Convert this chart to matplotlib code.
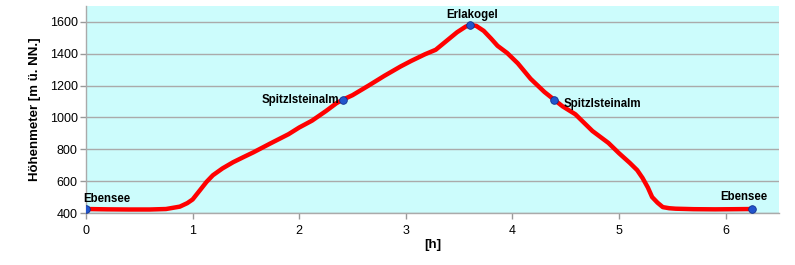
import matplotlib
matplotlib.use("Agg")
import matplotlib.pyplot as plt

plt.rcParams['font.family'] = ['Liberation Sans', 'DejaVu Sans']

# Elevation profile (time in hours, elevation in m)
hours = [0.0, 0.2, 0.4, 0.6, 0.75, 0.88, 0.95, 1.0, 1.07, 1.13, 1.19, 1.28, 1.38, 1.48,
         1.57, 1.73, 1.9, 2.0, 2.12, 2.25, 2.35, 2.41, 2.5, 2.65, 2.8, 2.95, 3.05, 3.18,
         3.28, 3.38, 3.48, 3.56, 3.6, 3.66, 3.73, 3.8, 3.86, 3.95, 4.05, 4.17, 4.3, 4.39,
         4.47, 4.59, 4.75, 4.9, 5.0, 5.1, 5.17, 5.22, 5.27, 5.31, 5.36, 5.41, 5.47, 5.53,
         5.7, 5.9, 6.1, 6.25]
elev = [425, 423, 422, 422, 425, 440, 462, 485, 544, 595, 637, 680, 719, 752,
        781, 837, 895, 937, 980, 1040, 1090, 1112, 1140, 1200, 1262, 1320, 1355, 1397,
        1425, 1480, 1535, 1570, 1581, 1575, 1544, 1495, 1450, 1405, 1340, 1243, 1160, 1112,
        1070, 1020, 915, 840, 775, 715, 669, 620, 560, 500, 465, 437, 430, 427,
        424, 423, 424, 425]

# Waypoints
wp_names = ["Ebensee", "Spitzlsteinalm", "Erlakogel", "Spitzlsteinalm", "Ebensee"]
wp_hours = [0.0, 2.41, 3.6, 4.39, 6.25]
wp_elev = [425, 1112, 1581, 1112, 425]

fig = plt.figure(figsize=(7.95, 2.65), dpi=100)
ax = fig.add_axes([86/795, 52/265, (779-86)/795, (213-6)/265])
ax.set_facecolor('#CCFCFC')

ax.plot(hours, elev, color='#FF0000', lw=3.2, solid_capstyle='round', solid_joinstyle='round', zorder=3)
ax.scatter(wp_hours, wp_elev, s=30, color='#2255CC', edgecolor='#103090', linewidth=0.6, zorder=4)

offsets = [(-2, 3, 'left', 'bottom'), (-3, 0, 'right', 'center'), (2, 3, 'center', 'bottom'),
           (7, -3, 'left', 'center'), (-6, 4, 'center', 'bottom')]
for name, hx, ey, (dx, dy, ha, va) in zip(wp_names, wp_hours, wp_elev, offsets):
    ax.annotate(name, (hx, ey), xytext=(dx, dy), textcoords='offset points',
                ha=ha, va=va, fontsize=8.3, fontweight='bold', color='black', zorder=5)

ax.set_xlim(0, 6.5)
ax.set_ylim(400, 1700)
ax.set_xticks([0, 1, 2, 3, 4, 5, 6])
ax.set_yticks([400, 600, 800, 1000, 1200, 1400, 1600])
ax.tick_params(axis='both', labelsize=9, color='#999999', length=4, width=1)
ax.tick_params(axis='x', pad=5)
ax.tick_params(axis='y', pad=2)
ax.grid(axis='y', color='#AAAAAA', lw=1)
ax.set_axisbelow(True)
for s in ['top', 'right']:
    ax.spines[s].set_visible(False)
for s in ['left', 'bottom']:
    ax.spines[s].set_color('#AAAAAA')
    ax.spines[s].set_linewidth(1)

ax.set_xlabel('[h]', fontsize=9.5, fontweight='bold', labelpad=1)
ax.set_ylabel('Höhenmeter [m ü. NN.]', fontsize=9.5, fontweight='bold', labelpad=6)

fig.savefig('out.png', dpi=100)
